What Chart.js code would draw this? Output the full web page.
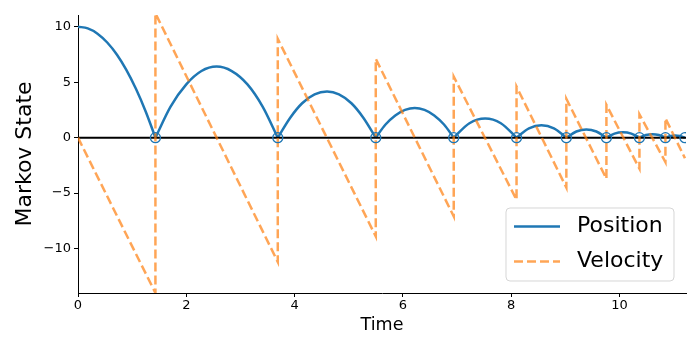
<!DOCTYPE html>
<html>
<head>
<meta charset="utf-8">
<script src="https://cdn.jsdelivr.net/npm/chart.js@4.4.0/dist/chart.umd.min.js"></script>
<style>
  html, body { margin: 0; padding: 0; background: #fff; }
</style>
</head>
<body>
<canvas id="grafico" width="700" height="350"></canvas>
<script>
// Instantes em que a bola toca o chão
var bounceTimes = [1.43, 3.69, 5.50, 6.94, 8.10, 9.02, 9.76, 10.37, 10.85, 11.21];

// Posição: um arco por linha, o null separa os arcos em cada quique
var posTime = [
  0, 0.18, 0.36, 0.54, 0.72, 0.89, 1.07, 1.25, 1.43, 1.43,
  1.43, 1.71, 2.00, 2.28, 2.56, 2.84, 3.13, 3.41, 3.69, 3.69,
  3.69, 3.92, 4.14, 4.37, 4.60, 4.82, 5.05, 5.27, 5.50, 5.50,
  5.50, 5.68, 5.86, 6.04, 6.22, 6.40, 6.58, 6.76, 6.94, 6.94,
  6.94, 7.23, 7.52, 7.81, 8.10, 8.10,
  8.10, 8.33, 8.56, 8.79, 9.02, 9.02,
  9.02, 9.205, 9.39, 9.575, 9.76, 9.76,
  9.76, 9.91, 10.065, 10.22, 10.37, 10.37,
  10.37, 10.49, 10.61, 10.73, 10.85, 10.85,
  10.85, 10.94, 11.03, 11.12, 11.21
];
var posValue = [
  10, 9.84, 9.37, 8.57, 7.47, 6.13, 4.4, 2.36, 0, null,
  0, 2.8, 4.8, 6.0, 6.4, 6.0, 4.8, 2.8, 0, null,
  0, 1.8, 3.1, 3.9, 4.15, 3.9, 3.1, 1.8, 0, null,
  0, 1.18, 2.0, 2.5, 2.68, 2.5, 2.0, 1.18, 0, null,
  0, 1.3, 1.72, 1.3, 0, null,
  0, 0.84, 1.12, 0.84, 0, null,
  0, 0.55, 0.74, 0.55, 0, null,
  0, 0.36, 0.48, 0.36, 0, null,
  0, 0.23, 0.31, 0.23, 0, null,
  0, 0.14, 0.19, 0.14, 0
];

// Velocidade: dente de serra, salto vertical em cada quique
var velTime = [0, 1.43, 1.43, 3.69, 3.69, 5.50, 5.50, 6.94, 6.94, 8.10,
  8.10, 9.02, 9.02, 9.76, 9.76, 10.37, 10.37, 10.85, 10.85, 11.21];
var velValue = [0, -14.0, 11.2, -11.2, 8.9, -8.9, 7.1, -7.1, 5.5, -5.6,
  4.6, -4.5, 3.5, -3.7, 2.95, -2.8, 2.1, -2.2, 1.75, -1.85];

var xTicks = [0, 2, 4, 6, 8, 10];
var yTicks = [-10, -5, 0, 5, 10];
var xMax = 11.23;
var yMin = -14.0;
var yMax = 11.05;

var azul = '#1f77b4';
var laranja = 'rgba(255, 127, 14, 0.7)';
var fonte = 'DejaVu Sans';

function pares(xs, ys) {
  return xs.map(function (x, i) { return { x: x, y: ys[i] }; });
}

// sinal de menos tipográfico nos rótulos
function rotulo(v) {
  return String(v).replace('-', '\u2212');
}

// Legenda desenhada dentro da área do gráfico, canto inferior direito
var legendaInterna = {
  id: 'legendaInterna',
  afterDraw: function (chart) {
    var ctx = chart.ctx;
    var area = chart.chartArea;
    var w = 168, h = 73;
    var x0 = area.right - 12 - w;
    var y0 = area.bottom - 12 - h;
    ctx.save();
    ctx.beginPath();
    ctx.roundRect(x0, y0, w, h, 4);
    ctx.fillStyle = 'rgba(255,255,255,0.8)';
    ctx.fill();
    ctx.strokeStyle = 'rgba(204,204,204,0.8)';
    ctx.lineWidth = 1;
    ctx.stroke();

    var itens = [
      { texto: 'Position', cor: azul, dash: [] },
      { texto: 'Velocity', cor: laranja, dash: [9, 4] }
    ];
    itens.forEach(function (item, i) {
      var y = y0 + 18.5 + i * 35;
      ctx.beginPath();
      ctx.setLineDash(item.dash);
      ctx.strokeStyle = item.cor;
      ctx.lineWidth = 2.5;
      ctx.moveTo(x0 + 8, y);
      ctx.lineTo(x0 + 54, y);
      ctx.stroke();
      ctx.setLineDash([]);
      ctx.fillStyle = '#000';
      ctx.font = '22px "' + fonte + '"';
      ctx.textBaseline = 'middle';
      ctx.textAlign = 'left';
      ctx.fillText(item.texto, x0 + 71, y);
    });
    ctx.restore();
  }
};

var config = {
  type: 'line',
  data: {
    datasets: [
      {
        label: 'bounces',
        data: bounceTimes.map(function (t) { return { x: t, y: 0 }; }),
        showLine: false,
        pointStyle: 'circle',
        pointRadius: 5,
        pointBorderWidth: 1.3,
        pointBorderColor: azul,
        pointBackgroundColor: 'rgba(0,0,0,0)',
        order: 0
      },
      {
        label: 'Velocity',
        data: pares(velTime, velValue),
        borderColor: laranja,
        borderWidth: 2.5,
        borderDash: [9, 4],
        pointRadius: 0,
        tension: 0,
        order: 1
      },
      {
        label: 'zero',
        data: [{ x: 0, y: 0 }, { x: xMax, y: 0 }],
        borderColor: '#000',
        borderWidth: 2,
        pointRadius: 0,
        order: 2
      },
      {
        label: 'Position',
        data: pares(posTime, posValue),
        borderColor: azul,
        borderWidth: 2.5,
        pointRadius: 0,
        cubicInterpolationMode: 'monotone',
        spanGaps: false,
        order: 3
      }
    ]
  },
  options: {
    responsive: false,
    animation: false,
    devicePixelRatio: 1,
    layout: { padding: { top: 15, right: 14, left: 0, bottom: 0 } },
    plugins: {
      legend: { display: false },
      tooltip: { enabled: false }
    },
    scales: {
      x: {
        type: 'linear',
        min: 0,
        max: xMax,
        afterBuildTicks: function (s) { s.ticks = xTicks.map(function (v) { return { value: v }; }); },
        afterFit: function (s) { s.height = 57; },
        grid: { drawOnChartArea: false, tickLength: 4, color: '#000' },
        border: { color: '#000', width: 1 },
        ticks: { color: '#000', padding: 1, maxRotation: 0, font: { family: fonte, size: 13 }, callback: rotulo },
        title: {
          display: true,
          text: 'Time',
          color: '#000',
          font: { family: fonte, size: 17.5 },
          padding: { top: 0, bottom: 14 }
        }
      },
      y: {
        min: yMin,
        max: yMax,
        afterBuildTicks: function (s) { s.ticks = yTicks.map(function (v) { return { value: v }; }); },
        afterFit: function (s) { s.width = 78; },
        grid: { drawOnChartArea: false, tickLength: 4, color: '#000' },
        border: { color: '#000', width: 1 },
        ticks: { color: '#000', padding: 3, font: { family: fonte, size: 13 }, callback: rotulo },
        title: {
          display: true,
          text: 'Markov State',
          color: '#000',
          font: { family: fonte, size: 22 },
          padding: { top: 12, bottom: 0 }
        }
      }
    }
  },
  plugins: [legendaInterna]
};

var grafico = new Chart(document.getElementById('grafico').getContext('2d'), config);
</script>
</body>
</html>
